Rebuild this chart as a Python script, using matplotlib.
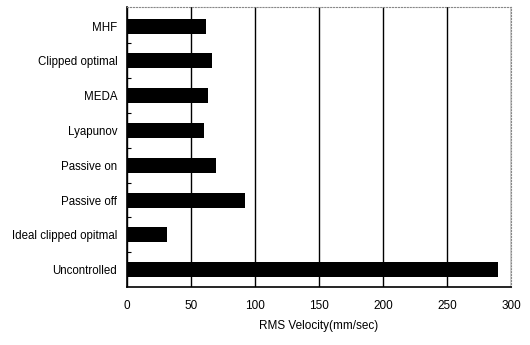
import matplotlib
matplotlib.use("Agg")
import matplotlib.pyplot as plt
from matplotlib.ticker import FixedLocator

plt.rcParams['font.family'] = ['Liberation Sans', 'DejaVu Sans']

# data (top to bottom)
methods = ['MHF', 'Clipped optimal', 'MEDA', 'Lyapunov', 'Passive on',
           'Passive off', 'Ideal clipped opitmal', 'Uncontrolled']
rms_velocity = [61.5, 66.5, 63, 60, 69.5, 92, 31, 290]

fig = plt.figure(figsize=(5.3, 3.45), dpi=100)
ax = fig.add_axes([0.2396, 0.168, 0.7245, 0.812])

ypos = list(range(len(methods)))
ax.barh(ypos, rms_velocity, height=0.43, color='black', zorder=3)

ax.set_xlim(0, 300)
ax.set_ylim(7.5, -0.55)
ax.set_xticks([0, 50, 100, 150, 200, 250, 300])
ax.set_yticks(ypos)
ax.set_yticklabels(methods, fontsize=8.3)
ax.yaxis.set_minor_locator(FixedLocator([i + 0.5 for i in range(len(methods) - 1)]))
ax.tick_params(axis='y', which='major', length=0, pad=7)
ax.tick_params(axis='y', which='minor', direction='in', length=3, width=0.8)
ax.tick_params(axis='x', length=0, pad=9, labelsize=8.5)

ax.grid(axis='x', color='black', linewidth=1.0, zorder=1)
ax.set_xlabel('RMS Velocity(mm/sec)', fontsize=8.5, labelpad=6)

for side in ['left', 'bottom']:
    ax.spines[side].set_linewidth(1.2)
for side in ['top', 'right']:
    ax.spines[side].set_linestyle(':')
    ax.spines[side].set_color('#888888')
    ax.spines[side].set_linewidth(0.8)

plt.savefig('out.png', dpi=100)
